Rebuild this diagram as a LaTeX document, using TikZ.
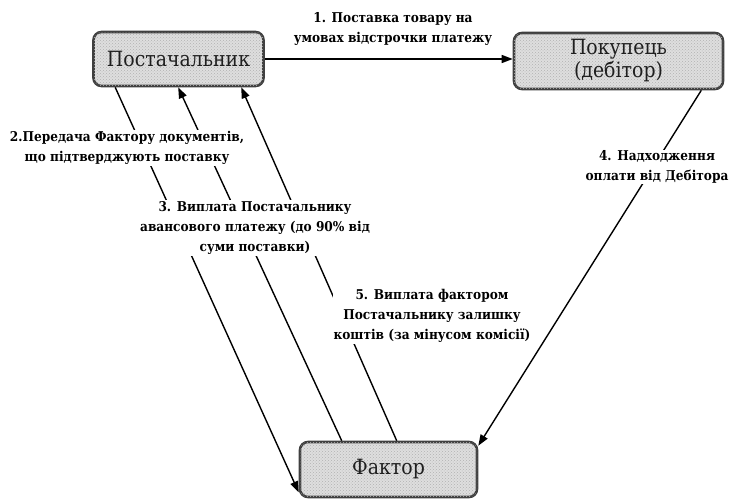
\documentclass[tikz,border=0pt]{standalone}
\usepackage{fontspec}
\setmainfont{DejaVu Serif}
\newfontfamily\tnrc{DejaVu Serif Condensed}
\usetikzlibrary{arrows.meta,calc,patterns}
\begin{document}
\begin{tikzpicture}[x=1pt,y=-1pt,
  party/.style={draw=black!75, line width=2.6pt, rounded corners=8pt, fill=black!13,
    postaction={pattern=crosshatch dots, pattern color=black!30},
    text=black!88, font=\tnrc\fontsize{21}{23}\selectfont, align=center, inner sep=0pt},
  flow/.style={line width=1.4pt, -{Triangle[length=11pt,width=8pt]}},
  lbl/.style={fill=white, inner sep=1pt, align=center, font=\tnrc\fontsize{13.5}{20}\selectfont\bfseries}]
\useasboundingbox (0,0) rectangle (732,501);
\node[party, minimum width=170pt, minimum height=54pt] (S) at (178.5,59) {Постачальник};
\node[party, minimum width=209pt, minimum height=56pt] (P) at (618.5,61) {Покупець\\(дебітор)};
\node[party, minimum width=177pt, minimum height=55pt] (F) at (388.5,469.5) {Фактор};
\draw[flow] (S.east) -- (S.east -| P.west);
\draw[flow] ($(S.south west)+(23,0)$) -- ($(F.south west)+(0,-6)$);
\draw[flow] ($(F.north west)+(43,0)$) -- ($(S.south west)+(86,0)$);
\draw[flow] ($(F.north west)+(98,0)$) -- ($(S.south west)+(149,0)$);
\draw[flow] ($(P.south east)+(-23,0)$) -- ($(F.north east)+(0,5)$);
\node[lbl, fill=none] (L1) at (393,29) {1. Поставка товару на\\умовах відстрочки платежу};
\node[lbl] (L2) at (127,148) {2.Передача Фактору документів,\\що підтверджують поставку};
\node[lbl] (L3) at (255,228) {3. Виплата Постачальнику\\авансового платежу (до 90\% від\\суми поставки)};
\node[lbl] (L5) at (432,316) {5. Виплата фактором\\Постачальнику залишку\\коштів (за мінусом комісії)};
\node[lbl] (L4) at (657,167) {4. Надходження\\оплати від Дебітора};
\end{tikzpicture}
\end{document}
